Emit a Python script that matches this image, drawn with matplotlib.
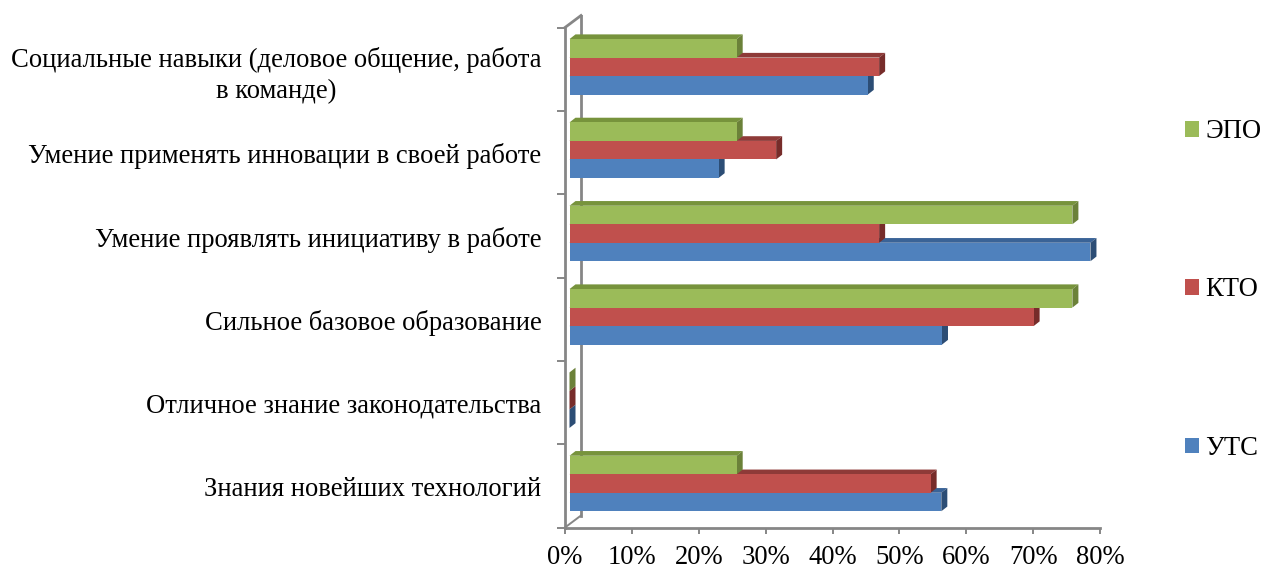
import matplotlib
matplotlib.use('Agg')
import matplotlib.pyplot as plt
from matplotlib.patches import Patch, Polygon

plt.rcParams['font.family'] = ['Liberation Serif', 'DejaVu Serif']

categories = [
    'Знания новейших технологий',
    'Отличное знание законодательства',
    'Сильное базовое образование',
    'Умение проявлять инициативу в работе',
    'Умение применять инновации в своей работе',
    'Социальные навыки (деловое общение, работа\nв команде)',
]
uts = [55.6, 0, 55.7, 77.9, 22.3, 44.6]
kto = [54.0, 0, 69.4, 46.3, 30.9, 46.3]
epo = [25.0, 0, 75.2, 75.2, 25.0, 25.0]
xticks = [0, 10, 20, 30, 40, 50, 60, 70, 80]

W, H = 1261, 569
GRAY = '#868686'
FS = 19.2

# px helpers for the 3d look
px_x = 80 / (1100 - 565)
px_y = 6 / (527 - 27)
start = 4.5 * px_x
dx, dy = 6 * px_x, 4.7 * px_y
bar_h = 18.5 * px_y
wall_x, wall_y = 16 * px_x, 12 * px_y

fig = plt.figure(figsize=(W / 100, H / 100), dpi=100)
ax = fig.add_axes([565 / W, 1 - 527.5 / H, 535 / W, 500 / H])
ax.set_xlim(0, 80)
ax.set_ylim(0, 6)

# back wall lines
ax.plot([wall_x, wall_x], [wall_y, 6 + wall_y], color=GRAY, lw=2, clip_on=False, zorder=1)
ax.plot([0, wall_x], [6, 6 + wall_y], color=GRAY, lw=2, clip_on=False, zorder=1)
ax.plot([0, wall_x], [0, wall_y], color=GRAY, lw=1.4, clip_on=False, zorder=1)

series = [
    ('УТС', uts, '#4F81BD', '#3A6397', '#2C4D75', -1),
    ('КТО', kto, '#C0504D', '#8E3A38', '#772C2A', 0),
    ('ЭПО', epo, '#9BBB59', '#77933C', '#6B8139', 1),
]

z = 2
for name, vals, front, top, side, pos in series:
    for i, v in enumerate(vals):
        y0 = i + 0.528 + pos * bar_h - bar_h / 2
        y1 = y0 + bar_h
        x1 = start + v
        ax.add_patch(Polygon([(start, y1), (start + dx, y1 + dy), (x1 + dx, y1 + dy), (x1, y1)],
                             facecolor=top, edgecolor='none', zorder=z))
        ax.add_patch(Polygon([(x1, y0), (x1 + dx, y0 + dy), (x1 + dx, y1 + dy), (x1, y1)],
                             facecolor=side, edgecolor='none', zorder=z))
        ax.barh(y0 + bar_h / 2, v, height=bar_h, left=start, color=front, zorder=z + 0.5)
    z += 1

for s in ['top', 'right']:
    ax.spines[s].set_visible(False)
for s in ['left', 'bottom']:
    ax.spines[s].set_color(GRAY)
    ax.spines[s].set_linewidth(2)

ax.set_xticks(xticks)
ax.set_xticklabels([f'{t}%' for t in xticks], fontsize=FS)
ax.tick_params(axis='x', length=4.5, width=1.4, color=GRAY, pad=8, labelcolor='black')

ax.set_yticks(range(7))
ax.set_yticklabels([])
ax.tick_params(axis='y', which='major', length=5.8, width=1.4, color=GRAY)
ax.set_yticks([i + 0.49 for i in range(6)], minor=True)
ax.set_yticklabels(categories, minor=True, fontsize=FS, ma='center', linespacing=1.28)
ax.tick_params(axis='y', which='minor', length=0, pad=17)

handles = [Patch(facecolor=c, label=n) for n, _, c, _, _, _ in reversed(series)]
fig.legend(handles=handles, loc='center left', bbox_to_anchor=(1185 / W, 1 - 290 / H),
           frameon=False, fontsize=FS, handlelength=0.53, handleheight=0.53,
           handletextpad=0.22, labelspacing=5.0, borderpad=0, borderaxespad=0)

fig.savefig('out.png', dpi=100)
